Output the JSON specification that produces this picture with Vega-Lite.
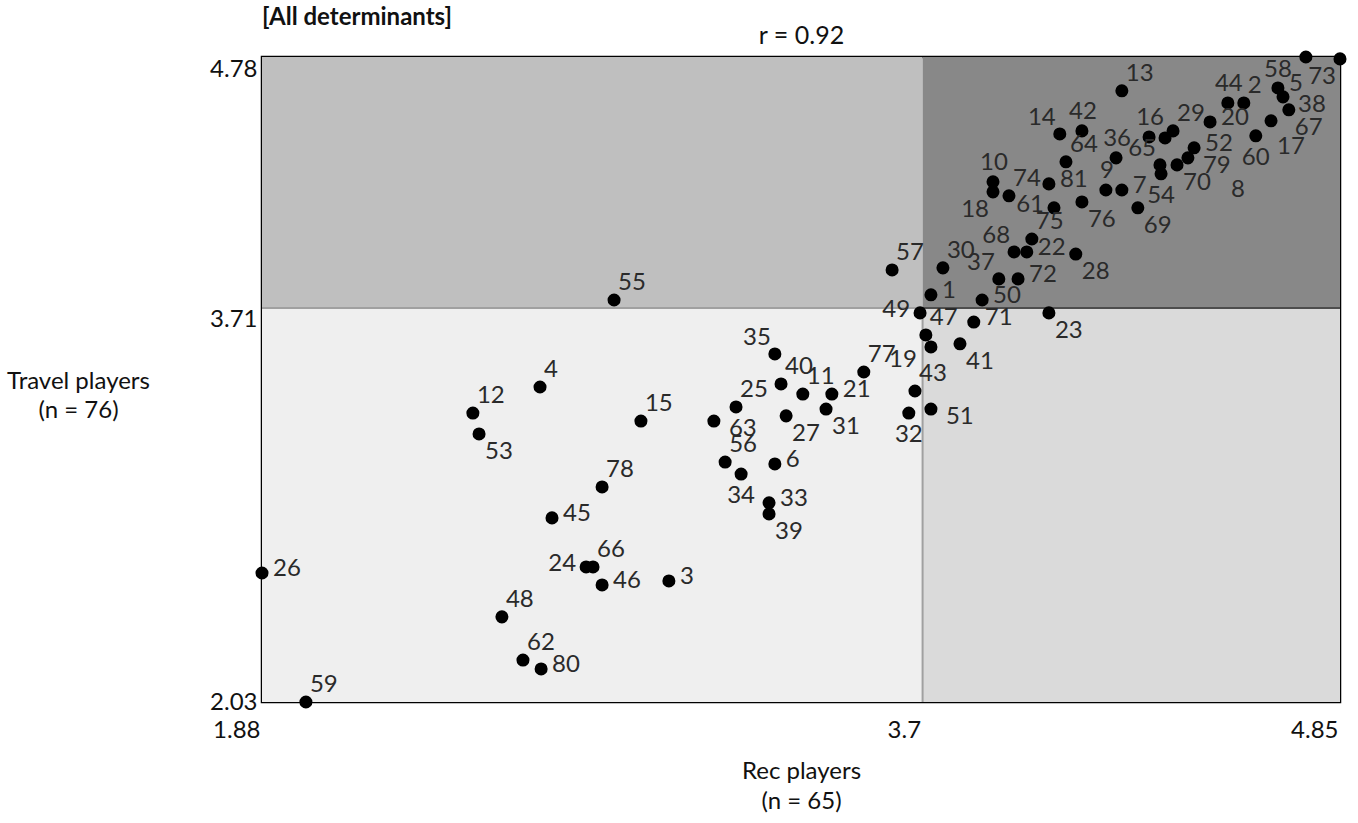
{
  "$schema": "https://vega.github.io/schema/vega-lite/v6.json",
  "width": 1078,
  "height": 645,
  "autosize": {"type": "none"},
  "padding": {"left": 262, "top": 57, "right": 18, "bottom": 121},
  "background": "white",
  "config": {
    "view": {"stroke": "#000000", "strokeWidth": 2.5},
    "font": "Lato",
    "text": {"font": "Lato", "fontSize": 24, "color": "#2a2a2a", "baseline": "middle"}
  },
  "title": {
    "text": "[All determinants]",
    "anchor": "start",
    "frame": "group",
    "font": "Lato",
    "fontSize": 24,
    "fontWeight": "bold",
    "color": "#111111",
    "baseline": "alphabetic",
    "offset": 4,
    "dy": 30
  },
  "datasets": {
    "quadrants": [
      {"zone": "LL", "x1": 1.88, "x2": 3.7, "y1": 2.03, "y2": 3.71},
      {"zone": "LR", "x1": 3.7, "x2": 4.85, "y1": 2.03, "y2": 3.71},
      {"zone": "UL", "x1": 1.88, "x2": 3.7, "y1": 3.71, "y2": 4.78},
      {"zone": "UR", "x1": 3.7, "x2": 4.85, "y1": 3.71, "y2": 4.78}
    ],
    "dividers": [
      {"kind": "light", "x1": 3.7, "x2": 3.7, "y1": 2.03, "y2": 3.71},
      {"kind": "light", "x1": 1.88, "x2": 3.7, "y1": 3.71, "y2": 3.71},
      {"kind": "dark", "x1": 3.7, "x2": 4.85, "y1": 3.71, "y2": 3.71}
    ],
    "points": [
      {"id": "1", "rec": 3.723, "travel": 3.766, "pos": "e"},
      {"id": "2", "rec": 4.585, "travel": 4.584, "pos": "ne"},
      {"id": "3", "rec": 3.001, "travel": 2.546, "pos": "e"},
      {"id": "4", "rec": 2.646, "travel": 3.373, "pos": "ne"},
      {"id": "5", "rec": 4.679, "travel": 4.648, "pos": "e"},
      {"id": "6", "rec": 3.293, "travel": 3.045, "pos": "e"},
      {"id": "7", "rec": 4.249, "travel": 4.213, "pos": "e"},
      {"id": "8", "rec": 4.368, "travel": 4.435, "pos": "far"},
      {"id": "9", "rec": 4.205, "travel": 4.213, "pos": "n"},
      {"id": "10", "rec": 3.894, "travel": 4.248, "pos": "n"},
      {"id": "11", "rec": 3.370, "travel": 3.343, "pos": "ne"},
      {"id": "12", "rec": 2.461, "travel": 3.262, "pos": "ne"},
      {"id": "13", "rec": 4.249, "travel": 4.636, "pos": "ne"},
      {"id": "14", "rec": 4.078, "travel": 4.452, "pos": "nw"},
      {"id": "15", "rec": 2.924, "travel": 3.228, "pos": "ne"},
      {"id": "16", "rec": 4.324, "travel": 4.439, "pos": "n"},
      {"id": "17", "rec": 4.660, "travel": 4.508, "pos": "se2"},
      {"id": "18", "rec": 3.894, "travel": 4.205, "pos": "sw"},
      {"id": "19", "rec": 3.723, "travel": 3.544, "pos": "sw2"},
      {"id": "20", "rec": 4.492, "travel": 4.503, "pos": "e"},
      {"id": "21", "rec": 3.450, "travel": 3.343, "pos": "e"},
      {"id": "22", "rec": 3.987, "travel": 3.949, "pos": "e"},
      {"id": "23", "rec": 4.048, "travel": 3.689, "pos": "se"},
      {"id": "24", "rec": 2.773, "travel": 2.606, "pos": "w"},
      {"id": "25", "rec": 3.186, "travel": 3.288, "pos": "ne"},
      {"id": "26", "rec": 1.880, "travel": 2.580, "pos": "e"},
      {"id": "27", "rec": 3.324, "travel": 3.250, "pos": "se"},
      {"id": "28", "rec": 4.122, "travel": 3.940, "pos": "se"},
      {"id": "29", "rec": 4.390, "travel": 4.465, "pos": "ne"},
      {"id": "30", "rec": 3.756, "travel": 3.881, "pos": "ne"},
      {"id": "31", "rec": 3.434, "travel": 3.279, "pos": "se"},
      {"id": "32", "rec": 3.662, "travel": 3.262, "pos": "s"},
      {"id": "33", "rec": 3.277, "travel": 2.879, "pos": "e"},
      {"id": "34", "rec": 3.200, "travel": 3.002, "pos": "s"},
      {"id": "35", "rec": 3.293, "travel": 3.514, "pos": "nw"},
      {"id": "36", "rec": 4.233, "travel": 4.350, "pos": "n"},
      {"id": "37", "rec": 3.910, "travel": 3.834, "pos": "nw"},
      {"id": "38", "rec": 4.693, "travel": 4.610, "pos": "ese"},
      {"id": "39", "rec": 3.277, "travel": 2.832, "pos": "se"},
      {"id": "40", "rec": 3.310, "travel": 3.386, "pos": "ne"},
      {"id": "41", "rec": 3.803, "travel": 3.557, "pos": "se"},
      {"id": "42", "rec": 4.139, "travel": 4.465, "pos": "n"},
      {"id": "43", "rec": 3.679, "travel": 3.356, "pos": "ne"},
      {"id": "44", "rec": 4.541, "travel": 4.584, "pos": "n"},
      {"id": "45", "rec": 2.679, "travel": 2.815, "pos": "e"},
      {"id": "46", "rec": 2.817, "travel": 2.529, "pos": "e"},
      {"id": "47", "rec": 3.709, "travel": 3.595, "pos": "ne"},
      {"id": "48", "rec": 2.541, "travel": 2.393, "pos": "ne"},
      {"id": "49", "rec": 3.693, "travel": 3.689, "pos": "w"},
      {"id": "50", "rec": 3.864, "travel": 3.744, "pos": "e"},
      {"id": "51", "rec": 3.723, "travel": 3.279, "pos": "ese"},
      {"id": "52", "rec": 4.448, "travel": 4.393, "pos": "e"},
      {"id": "53", "rec": 2.478, "travel": 3.173, "pos": "se"},
      {"id": "54", "rec": 4.357, "travel": 4.282, "pos": "s"},
      {"id": "55", "rec": 2.850, "travel": 3.744, "pos": "ne"},
      {"id": "56", "rec": 3.156, "travel": 3.053, "pos": "ne"},
      {"id": "57", "rec": 3.616, "travel": 3.872, "pos": "ne"},
      {"id": "58", "rec": 4.756, "travel": 4.780, "pos": "sw2"},
      {"id": "59", "rec": 2.001, "travel": 2.030, "pos": "ne"},
      {"id": "60", "rec": 4.618, "travel": 4.444, "pos": "s"},
      {"id": "61", "rec": 4.062, "travel": 4.137, "pos": "w"},
      {"id": "62", "rec": 2.599, "travel": 2.209, "pos": "ne"},
      {"id": "63", "rec": 3.125, "travel": 3.228, "pos": "ese"},
      {"id": "64", "rec": 4.095, "travel": 4.333, "pos": "ne"},
      {"id": "65", "rec": 4.354, "travel": 4.320, "pos": "nw"},
      {"id": "66", "rec": 2.792, "travel": 2.606, "pos": "ne"},
      {"id": "67", "rec": 4.709, "travel": 4.555, "pos": "se"},
      {"id": "68", "rec": 3.952, "travel": 3.949, "pos": "nw"},
      {"id": "69", "rec": 4.293, "travel": 4.137, "pos": "se"},
      {"id": "70", "rec": 4.401, "travel": 4.320, "pos": "se"},
      {"id": "71", "rec": 3.841, "travel": 3.650, "pos": "e"},
      {"id": "72", "rec": 3.963, "travel": 3.834, "pos": "e"},
      {"id": "73", "rec": 4.850, "travel": 4.772, "pos": "sw"},
      {"id": "74", "rec": 3.938, "travel": 4.188, "pos": "ne"},
      {"id": "75", "rec": 4.001, "travel": 4.004, "pos": "ne"},
      {"id": "76", "rec": 4.139, "travel": 4.162, "pos": "se"},
      {"id": "77", "rec": 3.538, "travel": 3.437, "pos": "ne"},
      {"id": "78", "rec": 2.817, "travel": 2.947, "pos": "ne"},
      {"id": "79", "rec": 4.431, "travel": 4.350, "pos": "ese"},
      {"id": "80", "rec": 2.649, "travel": 2.171, "pos": "e"},
      {"id": "81", "rec": 4.048, "travel": 4.239, "pos": "e"}
    ]
  },
  "resolve": {
    "scale": {"color": "independent"},
    "axis": {"x": "independent", "y": "independent"}
  },
  "layer": [
    {
      "data": {"name": "quadrants"},
      "mark": {"type": "rect"},
      "encoding": {
        "x": {
          "field": "x1", "type": "quantitative",
          "scale": {"domain": [1.88, 4.85], "nice": false, "zero": false},
          "axis": {
            "orient": "top", "labels": false, "ticks": false, "domain": false, "grid": false,
            "title": "r = 0.92", "titleFont": "Lato", "titleFontSize": 25, "titleFontWeight": "normal",
            "titleColor": "#111111", "titleBaseline": "alphabetic", "titleY": -14
          }
        },
        "x2": {"field": "x2"},
        "y": {
          "field": "y1", "type": "quantitative",
          "scale": {"domain": [2.03, 4.78], "nice": false, "zero": false},
          "axis": null
        },
        "y2": {"field": "y2"},
        "color": {
          "field": "zone", "type": "nominal",
          "scale": {"domain": ["LL", "LR", "UL", "UR"], "range": ["#efefef", "#dadada", "#bfbfbf", "#888888"]},
          "legend": null
        }
      }
    },
    {
      "data": {"name": "dividers"},
      "mark": {"type": "rule", "strokeWidth": 2},
      "encoding": {
        "x": {"field": "x1", "type": "quantitative", "scale": {"domain": [1.88, 4.85], "nice": false, "zero": false}, "axis": null},
        "x2": {"field": "x2"},
        "y": {"field": "y1", "type": "quantitative", "scale": {"domain": [2.03, 4.78], "nice": false, "zero": false}, "axis": null},
        "y2": {"field": "y2"},
        "color": {
          "field": "kind", "type": "nominal",
          "scale": {"domain": ["light", "dark"], "range": ["#a0a0a0", "#4d4d4d"]},
          "legend": null
        }
      }
    },
    {
      "data": {"name": "points"},
      "mark": {"type": "circle", "size": 170, "color": "#000000", "opacity": 1},
      "encoding": {
        "x": {
          "field": "rec", "type": "quantitative",
          "scale": {"domain": [1.88, 4.85], "nice": false, "zero": false},
          "axis": {
            "orient": "bottom", "values": [1.88, 3.7, 4.85], "format": ".3~r",
            "domain": false, "ticks": false, "grid": false,
            "labelFont": "Lato", "labelFontSize": 24, "labelColor": "#111111",
            "labelAlign": "right", "labelBaseline": "top", "labelPadding": 16, "labelOffset": -2,
            "labelFlush": false, "labelOverlap": false, "labelBound": false,
            "title": ["Rec players", "(n = 65)"],
            "titleFont": "Lato", "titleFontSize": 24, "titleFontWeight": "normal", "titleColor": "#111111",
            "titleBaseline": "top", "titleY": 57, "titleLineHeight": 30
          }
        },
        "y": {
          "field": "travel", "type": "quantitative",
          "scale": {"domain": [2.03, 4.78], "nice": false, "zero": false},
          "axis": {
            "orient": "left", "values": [2.03, 3.71, 4.78], "format": ".3~r",
            "domain": false, "ticks": false, "grid": false,
            "labelFont": "Lato", "labelFontSize": 24, "labelColor": "#111111",
            "labelAlign": "right",
            "labelBaseline": {"condition": {"test": "datum.value < 2.5", "value": "middle"}, "value": "top"},
            "labelPadding": 5, "labelOffset": 0,
            "labelFlush": false, "labelOverlap": false, "labelBound": false,
            "title": ["Travel players", "(n = 76)"],
            "titleFont": "Lato", "titleFontSize": 24, "titleFontWeight": "normal", "titleColor": "#111111",
            "titleAngle": 0, "titleAlign": "center", "titleBaseline": "top",
            "titleX": -184, "titleY": 312, "titleLineHeight": 29
          }
        }
      }
    },
    {
      "data": {"name": "points"},
      "transform": [{"filter": "datum.pos === 'n'"}],
      "mark": {"type": "text", "align": "center", "dx": 1, "dy": -19},
      "encoding": {
        "x": {"field": "rec", "type": "quantitative", "scale": {"domain": [1.88, 4.85], "nice": false, "zero": false}, "axis": null},
        "y": {"field": "travel", "type": "quantitative", "scale": {"domain": [2.03, 4.78], "nice": false, "zero": false}, "axis": null},
        "text": {"field": "id"}
      }
    },
    {
      "data": {"name": "points"},
      "transform": [{"filter": "datum.pos === 'ne'"}],
      "mark": {"type": "text", "align": "left", "dx": 4, "dy": -17},
      "encoding": {
        "x": {"field": "rec", "type": "quantitative", "scale": {"domain": [1.88, 4.85], "nice": false, "zero": false}, "axis": null},
        "y": {"field": "travel", "type": "quantitative", "scale": {"domain": [2.03, 4.78], "nice": false, "zero": false}, "axis": null},
        "text": {"field": "id"}
      }
    },
    {
      "data": {"name": "points"},
      "transform": [{"filter": "datum.pos === 'e'"}],
      "mark": {"type": "text", "align": "left", "dx": 11, "dy": -4},
      "encoding": {
        "x": {"field": "rec", "type": "quantitative", "scale": {"domain": [1.88, 4.85], "nice": false, "zero": false}, "axis": null},
        "y": {"field": "travel", "type": "quantitative", "scale": {"domain": [2.03, 4.78], "nice": false, "zero": false}, "axis": null},
        "text": {"field": "id"}
      }
    },
    {
      "data": {"name": "points"},
      "transform": [{"filter": "datum.pos === 'ese'"}],
      "mark": {"type": "text", "align": "left", "dx": 15, "dy": 8},
      "encoding": {
        "x": {"field": "rec", "type": "quantitative", "scale": {"domain": [1.88, 4.85], "nice": false, "zero": false}, "axis": null},
        "y": {"field": "travel", "type": "quantitative", "scale": {"domain": [2.03, 4.78], "nice": false, "zero": false}, "axis": null},
        "text": {"field": "id"}
      }
    },
    {
      "data": {"name": "points"},
      "transform": [{"filter": "datum.pos === 'se'"}],
      "mark": {"type": "text", "align": "left", "dx": 6, "dy": 18},
      "encoding": {
        "x": {"field": "rec", "type": "quantitative", "scale": {"domain": [1.88, 4.85], "nice": false, "zero": false}, "axis": null},
        "y": {"field": "travel", "type": "quantitative", "scale": {"domain": [2.03, 4.78], "nice": false, "zero": false}, "axis": null},
        "text": {"field": "id"}
      }
    },
    {
      "data": {"name": "points"},
      "transform": [{"filter": "datum.pos === 'se2'"}],
      "mark": {"type": "text", "align": "left", "dx": 6, "dy": 26},
      "encoding": {
        "x": {"field": "rec", "type": "quantitative", "scale": {"domain": [1.88, 4.85], "nice": false, "zero": false}, "axis": null},
        "y": {"field": "travel", "type": "quantitative", "scale": {"domain": [2.03, 4.78], "nice": false, "zero": false}, "axis": null},
        "text": {"field": "id"}
      }
    },
    {
      "data": {"name": "points"},
      "transform": [{"filter": "datum.pos === 's'"}],
      "mark": {"type": "text", "align": "center", "dx": 0, "dy": 22},
      "encoding": {
        "x": {"field": "rec", "type": "quantitative", "scale": {"domain": [1.88, 4.85], "nice": false, "zero": false}, "axis": null},
        "y": {"field": "travel", "type": "quantitative", "scale": {"domain": [2.03, 4.78], "nice": false, "zero": false}, "axis": null},
        "text": {"field": "id"}
      }
    },
    {
      "data": {"name": "points"},
      "transform": [{"filter": "datum.pos === 'nw'"}],
      "mark": {"type": "text", "align": "right", "dx": -4, "dy": -16},
      "encoding": {
        "x": {"field": "rec", "type": "quantitative", "scale": {"domain": [1.88, 4.85], "nice": false, "zero": false}, "axis": null},
        "y": {"field": "travel", "type": "quantitative", "scale": {"domain": [2.03, 4.78], "nice": false, "zero": false}, "axis": null},
        "text": {"field": "id"}
      }
    },
    {
      "data": {"name": "points"},
      "transform": [{"filter": "datum.pos === 'w'"}],
      "mark": {"type": "text", "align": "right", "dx": -10, "dy": -3},
      "encoding": {
        "x": {"field": "rec", "type": "quantitative", "scale": {"domain": [1.88, 4.85], "nice": false, "zero": false}, "axis": null},
        "y": {"field": "travel", "type": "quantitative", "scale": {"domain": [2.03, 4.78], "nice": false, "zero": false}, "axis": null},
        "text": {"field": "id"}
      }
    },
    {
      "data": {"name": "points"},
      "transform": [{"filter": "datum.pos === 'sw'"}],
      "mark": {"type": "text", "align": "right", "dx": -4, "dy": 18},
      "encoding": {
        "x": {"field": "rec", "type": "quantitative", "scale": {"domain": [1.88, 4.85], "nice": false, "zero": false}, "axis": null},
        "y": {"field": "travel", "type": "quantitative", "scale": {"domain": [2.03, 4.78], "nice": false, "zero": false}, "axis": null},
        "text": {"field": "id"}
      }
    },
    {
      "data": {"name": "points"},
      "transform": [{"filter": "datum.pos === 'sw2'"}],
      "mark": {"type": "text", "align": "right", "dx": -14, "dy": 13},
      "encoding": {
        "x": {"field": "rec", "type": "quantitative", "scale": {"domain": [1.88, 4.85], "nice": false, "zero": false}, "axis": null},
        "y": {"field": "travel", "type": "quantitative", "scale": {"domain": [2.03, 4.78], "nice": false, "zero": false}, "axis": null},
        "text": {"field": "id"}
      }
    },
    {
      "data": {"name": "points"},
      "transform": [{"filter": "datum.pos === 'far'"}],
      "mark": {"type": "text", "align": "left", "dx": 66, "dy": 52},
      "encoding": {
        "x": {"field": "rec", "type": "quantitative", "scale": {"domain": [1.88, 4.85], "nice": false, "zero": false}, "axis": null},
        "y": {"field": "travel", "type": "quantitative", "scale": {"domain": [2.03, 4.78], "nice": false, "zero": false}, "axis": null},
        "text": {"field": "id"}
      }
    }
  ]
}
